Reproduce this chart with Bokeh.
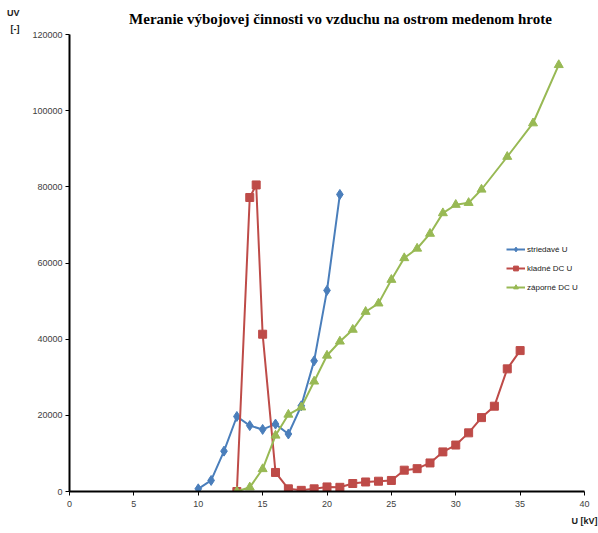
from bokeh.plotting import figure
from bokeh.models import (Range1d, Label, Legend, LegendItem, FixedTicker,
                          BasicTickFormatter, LinearAxis)
from bokeh.embed import file_html
from bokeh.resources import INLINE

# Data
ac_u = [10, 11, 12, 13, 14, 15, 16, 17, 18, 19, 20, 21]
ac_uv = [700, 2900, 10600, 19700, 17300, 16300, 17700, 15100, 22500, 34300, 52800, 78000]

pos_u = [13, 14, 14.5, 15, 16, 17, 18, 19, 20, 21, 22, 23, 24, 25, 26, 27, 28, 29, 30, 31, 32, 33, 34, 35]
pos_uv = [0, 77200, 80500, 41300, 5000, 700, 300, 700, 1200, 1100, 2100, 2500, 2700, 2900,
          5600, 6000, 7500, 10400, 12200, 15400, 19400, 22400, 32200, 37000]

neg_u = [13, 14, 15, 16, 17, 18, 19, 20, 21, 22, 23, 24, 25, 26, 27, 28, 29, 30, 31, 32, 34, 36, 38]
neg_uv = [0, 1100, 5900, 14700, 20200, 22100, 28900, 35700, 39400, 42500, 47200, 49400, 55600,
          61300, 63800, 67700, 73100, 75300, 75800, 79300, 87900, 96700, 112000]

x_ticks = [0, 5, 10, 15, 20, 25, 30, 35, 40]
y_ticks = [0, 20000, 40000, 60000, 80000, 100000, 120000]
y_max = 120000
x_max = 40

title_text = "Meranie výbojovej činnosti vo vzduchu na ostrom medenom hrote"
series_names = ["striedavé U", "kladné DC U", "záporné DC U"]
y_title = ["UV", "[-]"]
x_title = "U [kV]"

# layout (pixels)
W, H = 598, 533
frame_left, frame_right, axis_top, frame_bottom = 69, 584, 34, 491
# the frame reaches the top of the canvas so the title can sit inside it
px_per_unit = (frame_bottom - axis_top) / y_max
y_top = frame_bottom / px_per_unit

p = figure(width=W, height=H, output_backend="svg", toolbar_location=None,
           x_range=Range1d(0, x_max), y_range=Range1d(0, y_top),
           min_border_left=frame_left, min_border_right=W - frame_right,
           min_border_top=0, min_border_bottom=H - frame_bottom)
p.outline_line_color = None
p.grid.visible = False
p.background_fill_color = "white"

for ax, ticks in ((p.xaxis, x_ticks), (p.yaxis, y_ticks)):
    ax.ticker = FixedTicker(ticks=ticks)
    ax.axis_line_color = "black"
    ax.axis_line_width = 2
    ax.major_tick_line_color = "black"
    ax.major_tick_line_width = 1
    ax.major_tick_out = 4
    ax.major_tick_in = 0
    ax.minor_tick_line_color = None
    ax.major_label_text_font = "Liberation Sans"
    ax.major_label_text_font_size = "9px"
    ax.major_label_text_color = "#404040"
p.yaxis.formatter = BasicTickFormatter(use_scientific=False)
p.yaxis.bounds = (0, y_max)
p.xaxis.major_label_standoff = 5
p.yaxis.major_label_standoff = 3

# y-axis title ("UV" / "[-]") placed above the value axis, at the top left
uv_pos = y_max + (axis_top - 12) / px_per_unit
unit_pos = y_max + (axis_top - 28) / px_per_unit
yt = LinearAxis(ticker=FixedTicker(ticks=[uv_pos, unit_pos]),
                major_label_overrides={uv_pos: y_title[0], unit_pos: y_title[1]})
yt.axis_line_color = None
yt.major_tick_line_color = None
yt.minor_tick_line_color = None
yt.major_tick_out = 0
yt.major_label_standoff = 10
yt.major_label_text_font = "Liberation Sans"
yt.major_label_text_font_size = "9px"
yt.major_label_text_font_style = "bold"
yt.major_label_text_color = "#202020"
p.add_layout(yt, "left")

# x-axis title ("U [kV]") under the last tick at the right
xt = LinearAxis(ticker=FixedTicker(ticks=[x_max]), major_label_overrides={x_max: x_title})
xt.axis_line_color = None
xt.major_tick_line_color = None
xt.minor_tick_line_color = None
xt.major_tick_out = 0
xt.major_label_standoff = 6
xt.major_label_text_font = "Liberation Sans"
xt.major_label_text_font_size = "9px"
xt.major_label_text_font_style = "bold"
xt.major_label_text_color = "#202020"
p.add_layout(xt, "below")

blue, red, green = "#4a7ebb", "#be4b48", "#98b954"
l1 = p.line(ac_u, ac_uv, line_color=blue, line_width=2)
m1 = p.scatter(ac_u, ac_uv, marker="diamond", size=10, fill_color=blue, line_color=blue)
l2 = p.line(pos_u, pos_uv, line_color=red, line_width=2)
m2 = p.scatter(pos_u, pos_uv, marker="square", size=8, fill_color=red, line_color=red)
l3 = p.line(neg_u, neg_uv, line_color=green, line_width=2)
m3 = p.scatter(neg_u, neg_uv, marker="triangle", size=9, fill_color=green, line_color=green)

legend = Legend(items=[LegendItem(label=series_names[0], renderers=[l1, m1]),
                       LegendItem(label=series_names[1], renderers=[l2, m2]),
                       LegendItem(label=series_names[2], renderers=[l3, m3])],
                location=(435, 196), orientation="vertical")
legend.border_line_alpha = 0
legend.background_fill_alpha = 0
legend.label_text_font = "Liberation Sans"
legend.label_text_font_size = "8px"
legend.label_text_color = "#202020"
legend.glyph_width = 19
legend.glyph_height = 12
legend.label_standoff = 2
legend.spacing = 7
legend.padding = 2
legend.margin = 0
p.add_layout(legend, "center")

# main title, inside the (extended) frame
p.add_layout(Label(x=340 - frame_left, y=frame_bottom - 18, x_units="screen", y_units="screen",
                   text=title_text, text_font="Liberation Serif", text_font_style="bold",
                   text_font_size="15px", text_align="center", text_baseline="middle",
                   text_color="black"))

open("out.html", "w").write(file_html(p, INLINE))
